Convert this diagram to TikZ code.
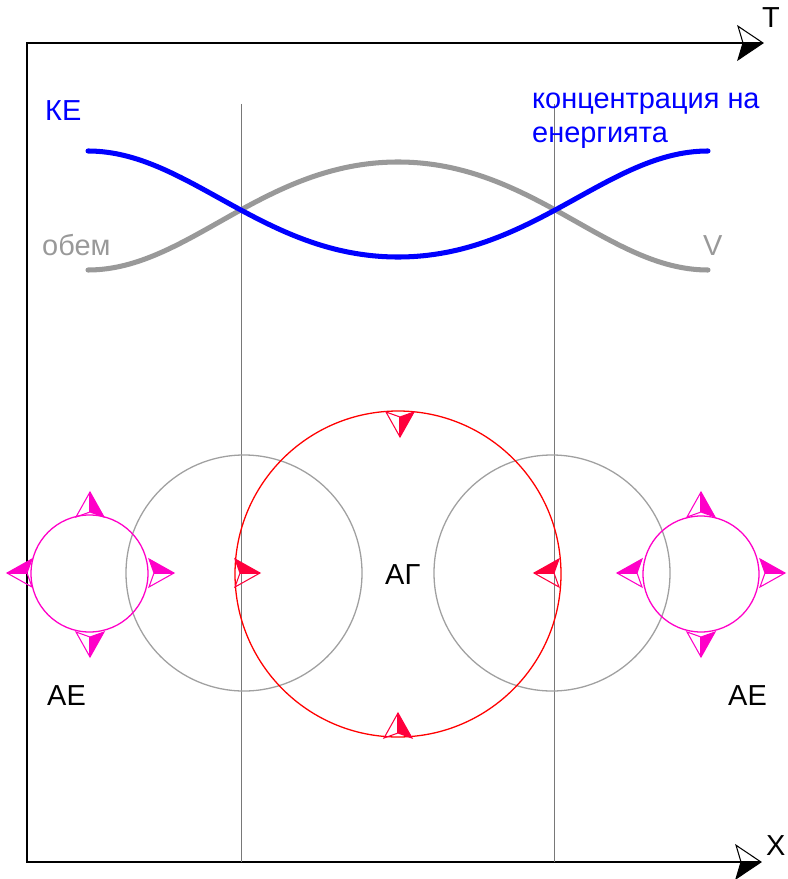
\documentclass[tikz,border=0pt]{standalone}
\usepackage{fontspec}
\setmainfont{Liberation Sans}
\definecolor{kblue}{RGB}{0,0,255}
\definecolor{vgray}{RGB}{153,153,153}
\definecolor{cgray}{RGB}{160,160,160}
\definecolor{lgray}{RGB}{120,120,120}
\definecolor{agred}{RGB}{255,0,0}
\definecolor{arred}{RGB}{255,0,60}
\definecolor{aemag}{RGB}{255,0,200}
\tikzset{
  pics/headA/.style={code={
    \fill (0,0) -- (-25,-14) -- (-20,0) -- cycle;
    \draw (0,0) -- (-25,-14) -- (-20,0) -- (-25,14) -- cycle;
    \draw (0,0) -- (-20,0);
  }},
  pics/headB/.style={code={
    \fill (0,0) -- (-25,14) -- (-20,0) -- cycle;
    \draw (0,0) -- (-25,-14) -- (-20,0) -- (-25,14) -- cycle;
    \draw (0,0) -- (-20,0);
  }},
  hd/.style={line width=0.9pt, line join=miter},
  lbl/.style={inner sep=0pt, anchor=base west, font=\fontsize{24.7}{28.2}\selectfont},
  axisline/.style={line width=1.3pt, black},
  guide/.style={line width=0.8pt, lgray},
  curve/.style={line width=4.3pt, line cap=round},
  circ/.style={line width=1.1pt},
}
\begin{document}
\begin{tikzpicture}[x=0.03cm, y=-0.03cm]
\useasboundingbox (0,0) rectangle (787,879);
% axes
\coordinate (TL) at (27,43);
\coordinate (BL) at (27,862);
\coordinate (TR) at (745,43);
\coordinate (BR) at (743,862);
\draw[axisline] (TR) -- (TL) -- (BL) -- (BR);
\pic[hd, black, yscale=1.2] at (763,43) {headB};
\pic[hd, black, yscale=1.2] at (761,862) {headB};
\node[lbl] (T) at (762,28) {T};
\node[lbl] (X) at (766,855) {X};
% guides
\coordinate (G1t) at (241,104);
\coordinate (G1b) at (241,862);
\coordinate (G2t) at (554,104);
\coordinate (G2b) at (554,862);
\draw[guide] (G1t) -- (G1b);
\draw[guide] (G2t) -- (G2b);
% curves
\draw[curve, vgray] (88,270) .. controls (188,270) and (263,162) .. (398,162)
   .. controls (533,162) and (608,270) .. (708,270);
\draw[curve, kblue] (88,151) .. controls (188,151) and (263,257) .. (398,257)
   .. controls (533,257) and (608,151) .. (708,151);
\node[lbl, kblue] (KE) at (45,121) {КЕ};
\node[lbl, kblue] (ke1) at (532,109) {концентрация на};
\node[lbl, kblue] (ke2) at (532,143) {енергията};
\node[lbl, vgray] (ob) at (42,255) {обем};
\node[lbl, vgray] (V) at (703,256) {V};
% circles
\draw[circ, cgray] (244,573) circle (118);
\draw[circ, cgray] (552,573) circle (118);
\draw[circ, agred] (398,574) circle (163);
\draw[circ, aemag] (89.5,573.5) circle (58.5);
\draw[circ, aemag] (701,574) circle (58);
% red arrows
\pic[hd, arred, rotate=-90] at (400,437) {headA};
\pic[hd, arred, rotate=90] at (398,713) {headB};
\pic[hd, arred] at (260,573) {headA};
\pic[hd, arred, rotate=180] at (534,573) {headB};
% magenta arrows left
\pic[hd, aemag, rotate=90] at (90,492) {headB};
\pic[hd, aemag, rotate=-90] at (90,657) {headA};
\pic[hd, aemag, rotate=180] at (7,573) {headB};
\pic[hd, aemag] at (174,573) {headA};
% magenta arrows right
\pic[hd, aemag, rotate=90] at (701,492) {headB};
\pic[hd, aemag, rotate=-90] at (701,657) {headA};
\pic[hd, aemag, rotate=180] at (617,573) {headB};
\pic[hd, aemag] at (785,573) {headA};
% labels
\node[lbl] (AG) at (385,584) {АГ};
\node[lbl] (AE1) at (47,705) {АЕ};
\node[lbl] (AE2) at (728,705) {АЕ};
\end{tikzpicture}
\end{document}
